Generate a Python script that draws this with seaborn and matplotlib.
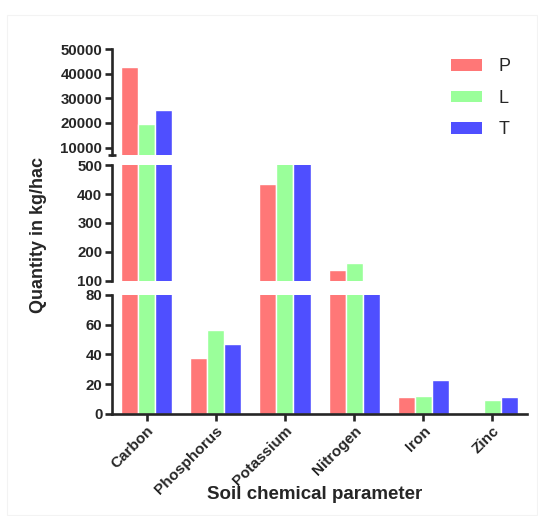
"""Soil chemical parameters for three sites, drawn on a broken y axis."""

import matplotlib.pyplot as plt
import pandas as pd
import seaborn as sns
from matplotlib.patches import Patch, Rectangle

sns.set_style("ticks")
plt.rcParams["font.family"] = ["Liberation Sans", "DejaVu Sans"]

PARAMETERS = ["Carbon", "Phosphorus", "Potassium", "Nitrogen", "Iron", "Zinc"]
SITES = ["P", "L", "T"]
P_VALUES = [42600, 37.8, 433, 137, 11.0, 0]
L_VALUES = [19600, 56.3, 560, 162, 12.3, 9.2]
T_VALUES = [25200, 46.9, 580, 92, 22.9, 11.0]

SITE_COLORS = {"P": "#FF7777", "L": "#9AFF9A", "T": "#4F4FFF"}

# (ylim, labelled ticks, cap ticks) for each segment, top to bottom
SEGMENTS = [
    ((7000, 50000), [10000, 20000, 30000, 40000, 50000], [7000, 50000]),
    ((100, 500), [100, 200, 300, 400, 500], [100, 500]),
    ((0, 80), [0, 20, 40, 60, 80], [80]),
]
# figure-fraction bottom / height for each segment
SEGMENT_BOXES = [(0.6996, 0.2054), (0.456, 0.224), (0.198, 0.2306)]

LINE_W = 1.9

df = pd.DataFrame(
    {
        "parameter": PARAMETERS * 3,
        "site": [s for s in SITES for _ in PARAMETERS],
        "value": P_VALUES + L_VALUES + T_VALUES,
    }
)

fig = plt.figure(figsize=(5.38, 5.16), dpi=100)

# faint frame around the picture
fig.patches.append(
    Rectangle(
        (7 / 538, 0.002), 1 - 8 / 538, 0.969,
        transform=fig.transFigure, fill=False, edgecolor="#f3f3f3", linewidth=0.8,
    )
)

axes = []
for (ylim, ticks, caps), (bottom, height) in zip(SEGMENTS, SEGMENT_BOXES):
    ax = fig.add_axes([0.2082, bottom, 0.7714, height])
    sns.barplot(
        data=df,
        x="parameter",
        y="value",
        hue="site",
        order=PARAMETERS,
        hue_order=SITES,
        palette=SITE_COLORS,
        width=0.74,
        saturation=1,
        errorbar=None,
        legend=False,
        ax=ax,
    )
    ax.set_xlim(-0.5, 5.5)
    ax.set_ylim(*ylim)
    ax.set_yticks(ticks)
    ax.set_yticks(caps, minor=True)
    ax.set_xlabel("")
    ax.set_ylabel("")
    ax.tick_params(axis="y", which="major", direction="out", length=5, width=LINE_W,
                   labelsize=10.8, pad=2)
    ax.tick_params(axis="y", which="minor", direction="inout", length=6, width=LINE_W)
    for label in ax.get_yticklabels():
        label.set_fontweight("bold")
    for side in ("top", "right"):
        ax.spines[side].set_visible(False)
    ax.spines["left"].set_linewidth(LINE_W)
    ax.spines["bottom"].set_linewidth(LINE_W)
    axes.append(ax)

for ax in axes[:2]:
    ax.spines["bottom"].set_visible(False)
    ax.tick_params(axis="x", bottom=False, labelbottom=False)

ax = axes[-1]
ax.tick_params(axis="x", direction="out", length=5, width=LINE_W, labelsize=11, pad=2)
ax.set_xticks(range(len(PARAMETERS)))
ax.set_xticklabels(PARAMETERS, rotation=45, ha="right", rotation_mode="anchor",
                   fontweight="bold")

fig.text(0.072, 0.545, "Quantity in kg/hac", rotation=90, ha="center", va="center",
         fontsize=13, fontweight="bold")
fig.text(0.584, 0.041, "Soil chemical parameter", ha="center", va="center",
         fontsize=13.5, fontweight="bold")

handles = [Patch(facecolor=SITE_COLORS[s], edgecolor="none") for s in SITES]
fig.legend(
    handles,
    SITES,
    loc="upper left",
    bbox_to_anchor=(0.838, 0.887),
    frameon=False,
    fontsize=13,
    handlelength=1.7,
    handleheight=0.6,
    handletextpad=0.95,
    labelspacing=0.8,
    borderpad=0,
    borderaxespad=0,
)

fig.savefig("out.png", dpi=100)
